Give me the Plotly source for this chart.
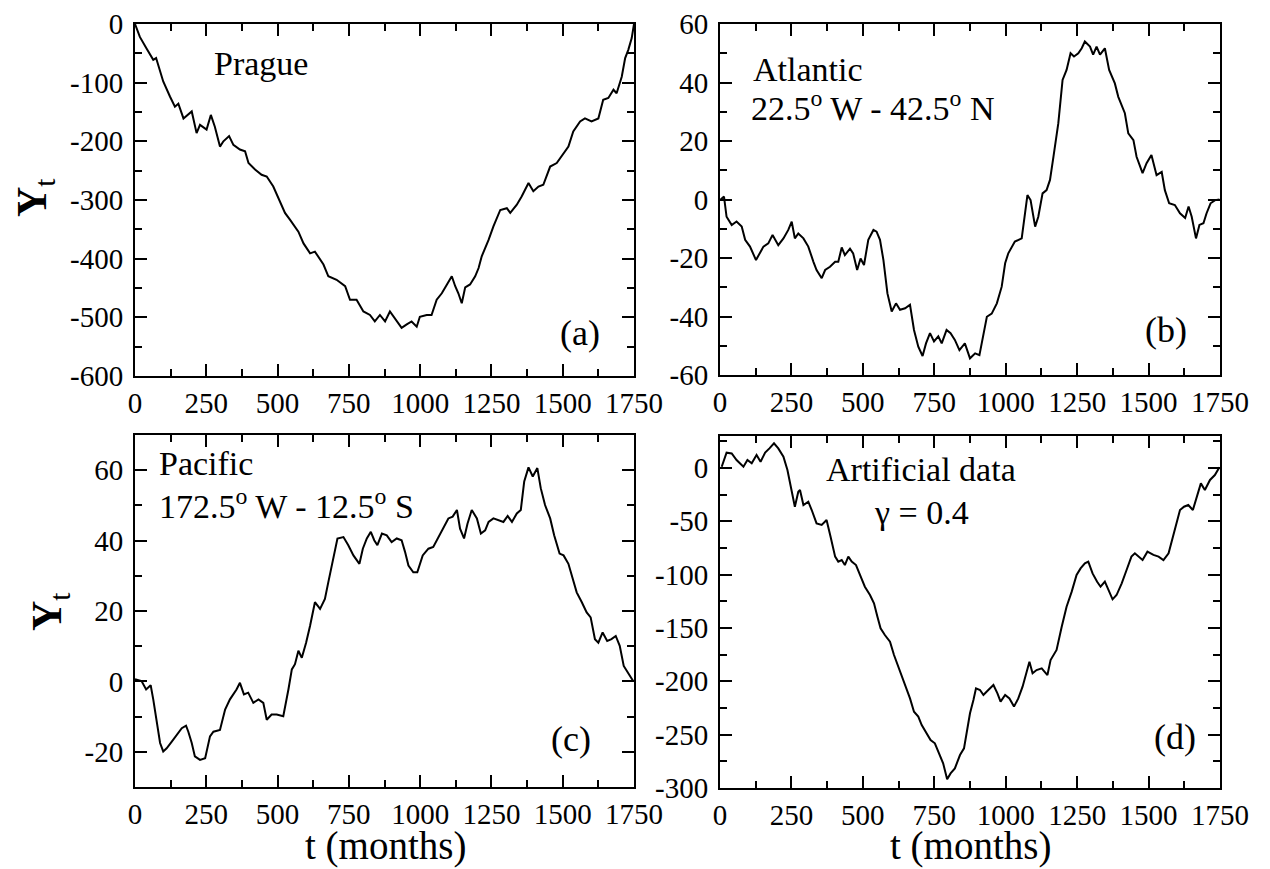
import plotly.graph_objects as go

# ---------------- data ----------------
prague_t = [0, 17, 41, 64, 74, 99, 123, 140, 152, 170, 199, 216, 228, 251, 266, 280, 298, 310, 330, 345,
            368, 386, 398, 421, 444, 462, 485, 509, 526, 544, 556, 573, 591, 614, 631, 649, 661, 678, 707, 737,
            754, 777, 801, 824, 841, 859, 877, 894, 918, 935, 953, 970, 988, 999, 1023, 1040, 1058, 1076, 1093, 1111,
            1123, 1134, 1146, 1158, 1175, 1193, 1205, 1216, 1240, 1257, 1281, 1304, 1316, 1339, 1356, 1380, 1397, 1415, 1432, 1456,
            1479, 1502, 1520, 1537, 1561, 1578, 1601, 1625, 1642, 1660, 1678, 1689, 1707, 1719, 1730, 1742, 1750]
prague_y = [0, -22, -42, -61, -58, -98, -124, -141, -136, -161, -149, -186, -172, -180, -155, -175, -209, -200, -191, -206,
            -214, -217, -237, -248, -257, -260, -277, -303, -322, -334, -342, -354, -374, -391, -388, -402, -410, -430, -436, -447,
            -470, -470, -490, -496, -507, -496, -507, -490, -507, -518, -512, -507, -516, -499, -496, -496, -470, -459, -445, -430,
            -447, -459, -476, -449, -444, -430, -416, -396, -368, -345, -317, -314, -322, -308, -294, -271, -285, -277, -274, -243,
            -237, -220, -209, -183, -166, -161, -166, -161, -129, -126, -112, -118, -90, -58, -44, -24, 0]

atl_t = [2, 14, 23, 41, 58, 76, 88, 105, 126, 140, 152, 169, 184, 204, 222, 239, 251, 262, 274, 292,
         309, 327, 338, 356, 368, 385, 403, 414, 426, 437, 455, 466, 480, 492, 504, 519, 537, 548, 560, 572,
         586, 601, 616, 630, 648, 665, 679, 694, 709, 721, 735, 749, 764, 776, 793, 807, 822, 838, 857, 875,
         893, 908, 922, 934, 951, 969, 986, 998, 1009, 1021, 1032, 1056, 1068, 1076, 1087, 1103, 1114, 1129, 1143, 1155,
         1167, 1184, 1199, 1213, 1227, 1239, 1254, 1266, 1277, 1295, 1306, 1318, 1330, 1347, 1362, 1382, 1394, 1417, 1429, 1447,
         1458, 1479, 1493, 1510, 1528, 1546, 1557, 1572, 1592, 1610, 1628, 1640, 1651, 1666, 1678, 1692, 1703, 1717, 1733, 1748]
atl_y = [0, 1, -5.9, -8.7, -7.5, -9.2, -13.8, -16.1, -20.7, -18.4, -16.1, -15, -12.1, -15.6, -13.3, -10.4, -7.6, -13.3, -11.6, -13.3,
         -16.1, -21.3, -24.1, -26.9, -24.1, -23, -21.3, -21.3, -16.4, -19, -16.8, -18.4, -24.1, -20.2, -22.4, -13.8, -10.4, -11, -13.8, -20.7,
         -32.1, -38.3, -35.5, -37.7, -37.2, -36, -44.6, -50.3, -53.5, -49.2, -45.7, -48.5, -46.8, -49.2, -44.6, -45.7, -48, -51.5, -49.2, -54.3,
         -52.6, -53.2, -46.8, -40.1, -39, -35.5, -29.8, -21.8, -18.4, -16.1, -14.4, -13.3, -4.7, 1.5, -0.2, -9.3, -5.9, 2.1, 3.2, 6.7,
         14.6, 26, 40.9, 44.3, 50, 48.9, 50, 51.7, 54, 52.3, 49.5, 52.3, 49.5, 51.7, 44.3, 39.7, 35.1, 29.5, 22.6, 20.3,
         14.6, 9, 12.4, 15.2, 8.3, 9.4, 3.2, -1.3, -1.9, -4.7, -6.3, -2.4, -5.9, -13.3, -8.7, -8.1, -4.7, -1.3, -0.2, 0]

pac_t = [0, 23, 39, 55, 64, 76, 88, 99, 111, 129, 146, 164, 179, 187, 199, 210, 228, 246, 263, 275,
         298, 316, 333, 345, 356, 368, 382, 397, 415, 433, 450, 462, 479, 497, 520, 538, 550, 561, 573, 585,
         600, 614, 631, 649, 666, 678, 696, 710, 731, 748, 766, 787, 799, 813, 827, 839, 850, 866, 883, 900,
         918, 935, 947, 959, 976, 990, 1009, 1029, 1046, 1064, 1082, 1099, 1114, 1129, 1140, 1154, 1166, 1181, 1199, 1213,
         1228, 1240, 1257, 1275, 1292, 1307, 1322, 1339, 1353, 1365, 1380, 1395, 1411, 1423, 1438, 1456, 1470, 1489, 1503, 1520,
         1532, 1549, 1567, 1584, 1598, 1613, 1625, 1640, 1656, 1671, 1686, 1700, 1714, 1729, 1747]
pac_y = [0.6, 0.1, -2.3, -1.1, -5.1, -11.8, -17.5, -19.9, -19, -17.1, -15.2, -13.3, -12.6, -14.3, -17.5, -21.3, -22.3, -21.8, -15.6, -14.3,
         -13.8, -8, -5.1, -3.7, -2.3, -0.4, -3.7, -3.2, -6.1, -5.1, -6.1, -10.9, -9.4, -9.4, -9.9, -2.3, 3.4, 4.9, 8.7, 6.7,
         11, 15.8, 22.5, 20.6, 23.4, 28.2, 34.9, 40.6, 41, 38.7, 35.8, 33.4, 37.7, 40.6, 42.5, 40.1, 38.7, 42, 41.5, 39.6,
         40.6, 40.1, 36.8, 32.9, 31, 31, 35.8, 37.7, 38.2, 41, 43.9, 46.3, 46.8, 48.7, 43.4, 40.6, 44.8, 48.7, 46.3, 42,
         42.9, 45.3, 46.3, 45.8, 45.3, 47, 45.3, 47.7, 48.7, 56.8, 60.8, 58.2, 60.6, 54.9, 50.1, 46.3, 41.5, 36.3, 35.8, 33.4,
         30, 25.3, 22.5, 19.6, 18.2, 12, 11, 13.9, 11.5, 12, 12.9, 10.1, 4.4, 2.5, 0.1]

art_t = [6, 23, 41, 58, 82, 96, 111, 128, 142, 158, 173, 189, 204, 222, 236, 247, 262, 274, 280, 292,
         309, 321, 338, 356, 373, 387, 403, 414, 426, 437, 449, 461, 476, 490, 507, 525, 539, 551, 562, 577,
         595, 609, 624, 639, 653, 665, 679, 694, 706, 723, 737, 752, 767, 781, 795, 807, 822, 840, 854, 863,
         875, 887, 896, 910, 922, 939, 957, 971, 982, 998, 1013, 1029, 1044, 1059, 1073, 1083, 1094, 1108, 1126, 1146,
         1157, 1178, 1196, 1213, 1231, 1248, 1262, 1277, 1289, 1304, 1320, 1332, 1347, 1359, 1374, 1388, 1406, 1423, 1440, 1452,
         1464, 1479, 1496, 1517, 1535, 1552, 1570, 1581, 1596, 1610, 1624, 1639, 1655, 1669, 1683, 1697, 1715, 1732, 1748]
art_y = [1.2, 14.4, 13.7, 7.5, 1.2, 7.5, 4.4, 12.2, 5.9, 14.4, 18.4, 23.1, 18.4, 10.6, -1.9, -17.5, -36.3, -22.2, -20.6, -34.7,
         -31.6, -39.4, -51.9, -53.4, -48.8, -64.4, -83.1, -87.8, -86.3, -91, -83.1, -87.8, -91, -100.3, -111.3, -119.1, -126.9, -139.4, -150.3, -156.6,
         -162.8, -175.3, -186.3, -195.6, -206.6, -216, -228.5, -233.1, -241, -248.7, -255, -258.1, -267.5, -276.9, -291.9, -286.3, -281.6, -269.1, -262.8, -248.7,
         -230, -217.5, -206.6, -208.1, -212.8, -208.1, -203.4, -211.2, -219, -212.8, -216, -223.7, -216, -205, -192.5, -181.6, -192.5, -189.4, -187.8, -194.1,
         -180, -170.6, -148.8, -130, -115.9, -100.3, -94.1, -89.4, -87.8, -98.8, -106.6, -111.3, -106.6, -114.4, -123.1, -119.1, -108.1, -95.6, -83.1, -80,
         -83.1, -86.3, -78.4, -81.5, -83.1, -86.3, -80, -69.1, -51.9, -39.4, -36.3, -34.7, -39.4, -26.9, -14.4, -20.6, -11.2, -6.6, 0.6]

x_ticks = [0, 250, 500, 750, 1000, 1250, 1500, 1750]
y_ticks_a = [-600, -500, -400, -300, -200, -100, 0]
y_ticks_b = [-60, -40, -20, 0, 20, 40, 60]
y_ticks_c = [-20, 0, 20, 40, 60]
y_ticks_d = [-300, -250, -200, -150, -100, -50, 0]
panel_letters = ["(a)", "(b)", "(c)", "(d)"]
y_ranges = [[-600, 0], [-60, 60], [-30, 70], [-300, 30]]
y_minor = [50, 10, 10, 25]

# ---------------- layout helpers ----------------
W, H = 1270, 869
FONT = "Liberation Serif, Times New Roman, DejaVu Serif, serif"


def fx(p):
    return p / W


def fy(p):
    return 1 - p / H


x_domains = [[fx(135), fx(634)], [fx(720), fx(1220)], [fx(135), fx(634)], [fx(720), fx(1220)]]
y_domains = [[fy(376), fy(24)], [fy(375), fy(24)], [fy(787), fy(435)], [fy(788), fy(436)]]

series = [(prague_t, prague_y), (atl_t, atl_y), (pac_t, pac_y), (art_t, art_y)]
y_ticks = [y_ticks_a, y_ticks_b, y_ticks_c, y_ticks_d]

fig = go.Figure()
layout = dict(
    template="none",
    width=W, height=H,
    margin=dict(l=0, r=0, t=0, b=0, autoexpand=False),
    paper_bgcolor="white", plot_bgcolor="white",
    showlegend=False,
    font=dict(family=FONT, color="black", size=29),
)

for i, (tx, ty) in enumerate(series):
    n = "" if i == 0 else str(i + 1)
    fig.add_trace(go.Scatter(x=tx, y=ty, mode="lines",
                             line=dict(color="black", width=2),
                             xaxis="x" + n, yaxis="y" + n, hoverinfo="skip"))
    common = dict(showline=True, linecolor="black", linewidth=2, mirror="allticks",
                  ticks="inside", ticklen=12, tickwidth=2, tickcolor="black",
                  showgrid=False, zeroline=False, automargin=False,
                  tickfont=dict(family=FONT, size=29, color="black"))
    layout["xaxis" + n] = dict(common, domain=x_domains[i], range=[0, 1750],
                               tickmode="array", tickvals=x_ticks,
                               ticktext=[str(v) for v in x_ticks],
                               minor=dict(dtick=125, tick0=0, ticks="inside", ticklen=7,
                                          tickwidth=2, tickcolor="black", showgrid=False),
                               anchor="y" + n, ticklabelstandoff=0)
    layout["yaxis" + n] = dict(common, domain=y_domains[i], range=y_ranges[i],
                               tickmode="array", tickvals=y_ticks[i],
                               ticktext=[str(v) for v in y_ticks[i]],
                               minor=dict(dtick=y_minor[i], tick0=0, ticks="inside", ticklen=7,
                                          tickwidth=2, tickcolor="black", showgrid=False),
                               anchor="x" + n, ticklabelstandoff=4)

ann = []


def add(text, x, y, size=34, xa="center", ya="middle", angle=0):
    ann.append(dict(text=text, x=fx(x), y=fy(y), xref="paper", yref="paper",
                    xanchor=xa, yanchor=ya, showarrow=False, textangle=angle,
                    font=dict(family=FONT, size=size, color="black")))


add("Prague", 212, 63, xa="left")
add("Atlantic", 751, 69, xa="left")
add("22.5<sup>o</sup> W - 42.5<sup>o</sup> N", 749, 106, xa="left")
add("Pacific", 157, 463, xa="left")
add("172.5<sup>o</sup> W - 12.5<sup>o</sup> S", 157, 504, xa="left")
add("Artificial data", 921, 470)
add("γ = 0.4", 921, 512)
add(panel_letters[0], 580, 333, size=36)
add(panel_letters[1], 1166, 330, size=36)
add(panel_letters[2], 571, 739, size=36)
add(panel_letters[3], 1175, 737, size=36)
add("t (months)", 385, 846, size=39)
add("t (months)", 970, 846, size=39)
add("<b>Y</b><sub>t</sub>", 35, 198, size=42, angle=-90)
add("<b>Y</b><sub>t</sub>", 50, 612, size=42, angle=-90)

layout["annotations"] = ann
fig.update_layout(**layout)
fig.write_html("out.html")
